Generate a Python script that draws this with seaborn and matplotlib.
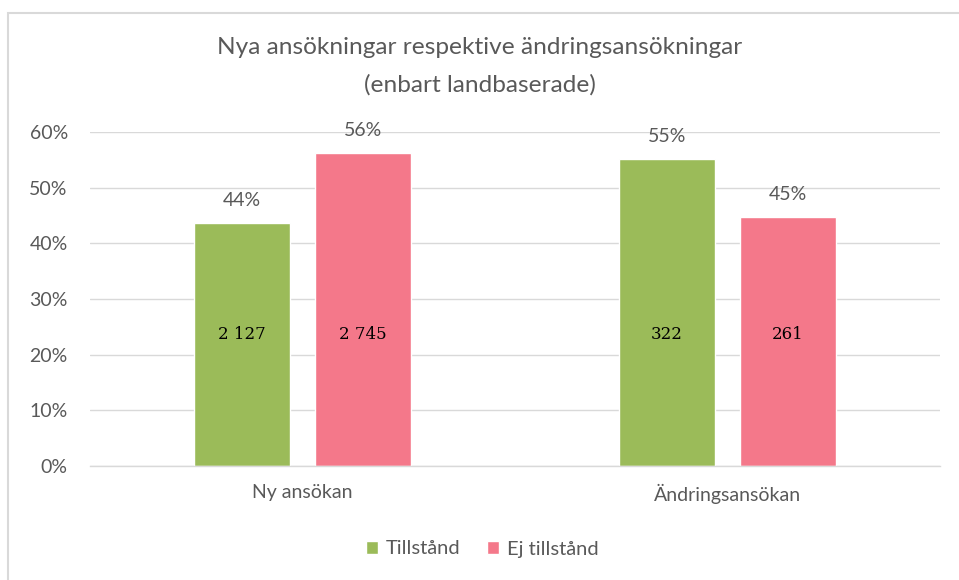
import matplotlib
matplotlib.use("Agg")
import matplotlib.pyplot as plt
import seaborn as sns
import pandas as pd
from matplotlib.patches import Rectangle, Patch

# data
categories = ["Ny ansökan", "Ändringsansökan"]
series = ["Tillstånd", "Ej tillstånd"]
share_tillstand = [0.437, 0.552]
share_ej = [0.563, 0.448]
count_tillstand = ["2 127", "322"]
count_ej = ["2 745", "261"]
pct_tillstand = ["44%", "55%"]
pct_ej = ["56%", "45%"]

colors = {"Tillstånd": "#9BBB59", "Ej tillstånd": "#F4788A"}
text_col = "#595959"
grid_col = "#D9D9D9"

df = pd.DataFrame({
    "kategori": categories * 2,
    "serie": [series[0]] * 2 + [series[1]] * 2,
    "andel": share_tillstand + share_ej,
})

sns.set_theme(style="white")
plt.rcParams["font.family"] = ["Lato", "DejaVu Sans"]

fig = plt.figure(figsize=(9.59, 5.8), dpi=100)
ax = fig.add_axes([90 / 959, 1 - 466 / 580, 850 / 959, (466 - 132) / 580])

sns.barplot(data=df, x="kategori", y="andel", hue="serie", palette=colors,
            width=0.57, gap=0.21, ax=ax, legend=False, saturation=1)

ax.set_xlim(-0.5, 1.5)
ax.set_ylim(0, 0.6)
ax.set_yticks([0, 0.1, 0.2, 0.3, 0.4, 0.5, 0.6])
ax.set_yticklabels([f"{int(round(v * 100))}%" for v in ax.get_yticks()])
ax.yaxis.grid(True, color=grid_col, linewidth=1)
ax.set_axisbelow(True)
for s in ["top", "right", "left"]:
    ax.spines[s].set_visible(False)
ax.spines["bottom"].set_color(grid_col)
ax.spines["bottom"].set_linewidth(1)
ax.tick_params(axis="both", length=0, colors=text_col, labelsize=14)
ax.tick_params(axis="y", pad=16)
ax.tick_params(axis="x", pad=13)
ax.set_xlabel("")
ax.set_ylabel("")

# labels on bars
for cont, pcts, counts in zip(ax.containers, [pct_tillstand, pct_ej], [count_tillstand, count_ej]):
    ax.bar_label(cont, labels=pcts, padding=10, color=text_col, fontsize=14)
    for bar, c in zip(cont, counts):
        ax.text(bar.get_x() + bar.get_width() / 2, 0.236, c, ha="center", va="center",
                fontsize=12, color="black", family=["DejaVu Serif"])

fig.text(0.5, 1 - 48 / 580, "Nya ansökningar respektive ändringsansökningar",
         ha="center", va="center", fontsize=17.6, color=text_col)
fig.text(0.5, 1 - 85 / 580, "(enbart landbaserade)",
         ha="center", va="center", fontsize=17.6, color=text_col)

handles = [Patch(facecolor=colors[s], label=s) for s in series]
fig.legend(handles=handles, loc="center", bbox_to_anchor=(0.503, 1 - 549 / 580), ncol=2,
           frameon=False, fontsize=14.5, labelcolor=text_col, handlelength=0.6,
           handleheight=0.6, handletextpad=0.4, columnspacing=1.3)

# outer chart border
fig.patches.append(Rectangle((8 / 959, -0.1), 1.2, 1 - 13 / 580 + 0.1, transform=fig.transFigure,
                             fill=False, edgecolor=grid_col, linewidth=1.5))

fig.savefig("out.png", dpi=100)
